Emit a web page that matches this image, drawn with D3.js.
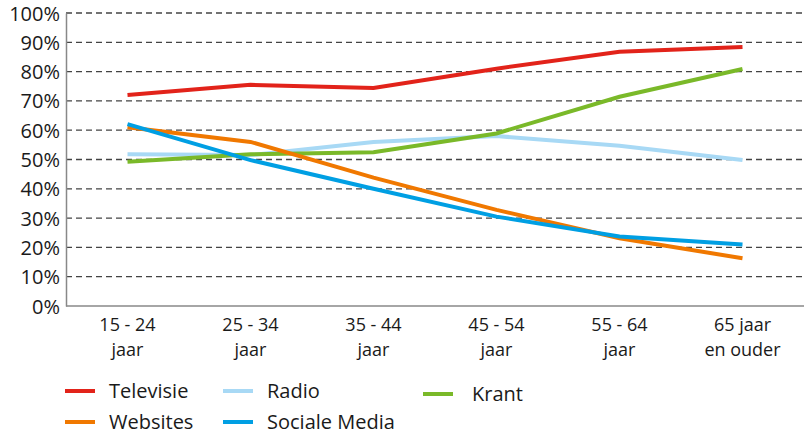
<!DOCTYPE html>
<html><head><meta charset="utf-8">
<script src="https://cdn.jsdelivr.net/npm/d3@7"></script>
<style>body{margin:0;background:#fff}svg{display:block}text{font-family:"Open Sans",sans-serif;fill:#1a1a1a}</style>
</head><body><svg id="c" width="812" height="435"></svg>
<script>
const categories = [["15 - 24","jaar"],["25 - 34","jaar"],["35 - 44","jaar"],["45 - 54","jaar"],["55 - 64","jaar"],["65 jaar","en ouder"]];
const yTicks = [0,10,20,30,40,50,60,70,80,90,100];
const televisie = [72, 75.5, 74.4, 81, 86.8, 88.4];
const websites = [61, 56, 43.8, 32.8, 23.1, 16.3];
const radio = [51.8, 51.5, 56, 58, 54.7, 49.8];
const socialeMedia = [62.1, 49.8, 40, 30.5, 23.7, 21];
const krant = [49.2, 51.8, 52.5, 58.9, 71.4, 80.9];
const seriesNames = ["Televisie","Websites","Radio","Sociale Media","Krant"];
const seriesColors = ["#e2231a","#f07800","#a8d9f5","#009fe3","#7ab929"];
const seriesValues = [televisie, websites, radio, socialeMedia, krant];

const svg = d3.select("#c");
const L = 66, R = 804, T = 13, B = 306;
const x = d3.scalePoint().domain(categories.map((d,i)=>i)).range([L,R]).padding(0.5);
const y = d3.scaleLinear().domain([0,100]).range([B,T]);

// gridlines
svg.append("g").selectAll("line").data(yTicks.filter(d=>d>0)).join("line")
  .attr("x1",L).attr("x2",R).attr("y1",d=>y(d)).attr("y2",d=>y(d))
  .attr("stroke","#444").attr("stroke-width",1.3).attr("stroke-dasharray","6,4");

// y axis
const ya = svg.append("g").attr("transform",`translate(${L},0)`)
  .call(d3.axisLeft(y).tickValues(yTicks).tickSize(0).tickPadding(6).tickFormat(d=>d+"%"));
ya.select(".domain").attr("stroke","#888").attr("stroke-width",1.5);
ya.selectAll("text").attr("font-size",20).attr("fill","#1a1a1a").attr("dy","0.35em");

// x axis
const xa = svg.append("g").attr("transform",`translate(0,${B})`)
  .call(d3.axisBottom(x).tickSize(0).tickFormat(""));
xa.select(".domain").attr("stroke","#888").attr("stroke-width",1.5).attr("d",`M${L},0H${R}`);
const labData = categories.map((c,i)=>({c,i}));
const lg1 = svg.append("g");
lg1.selectAll("text.l1").data(labData).join("text").attr("class","l1")
  .attr("text-anchor","middle").attr("font-size",18)
  .attr("x",d=>x(d.i)).attr("y",331).text(d=>d.c[0]);
lg1.selectAll("text.l2").data(labData).join("text").attr("class","l2")
  .attr("text-anchor","middle").attr("font-size",18)
  .attr("x",d=>x(d.i)).attr("y",356).text(d=>d.c[1]);

// lines
const line = d3.line().x((d,i)=>x(i)).y(d=>y(d));
const order = [2,4,1,3,0];
svg.append("g").selectAll("path").data(order).join("path")
  .attr("d",k=>line(seriesValues[k])).attr("fill","none")
  .attr("stroke",k=>seriesColors[k]).attr("stroke-width",4);

// legend
const legPos = [[65,391],[65,422],[223,391],[223,422],[423,394]];
const lg = svg.append("g").selectAll("g").data(seriesNames.map((n,i)=>({n,i}))).join("g")
  .attr("transform",d=>`translate(${legPos[d.i][0]},${legPos[d.i][1]})`);
lg.append("line").attr("x1",0).attr("x2",30).attr("y1",0).attr("y2",0)
  .attr("stroke",d=>seriesColors[d.i]).attr("stroke-width",4);
lg.append("text").attr("x",d=>d.i===4?49:44).attr("y",0).attr("dy","0.35em").attr("font-size",20).text(d=>d.n);
</script></body></html>
